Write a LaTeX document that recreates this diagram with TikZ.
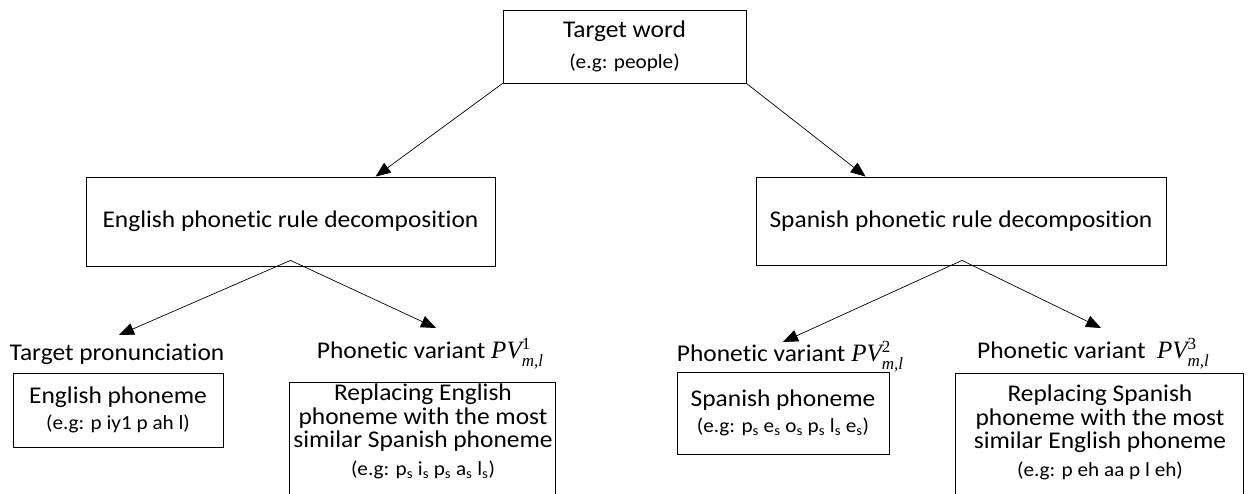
\documentclass[tikz,border=0pt]{standalone}
\usepackage{fontspec}
\setmainfont[FakeStretch=1.06,Ligatures=NoCommon]{Carlito}
\newfontfamily\tnr{Liberation Serif}
\usetikzlibrary{arrows.meta,calc}

% phonetic variant symbol PV^k_{m,l}
\newcommand{\pvar}[1]{{\tnr\fontsize{25}{25}\selectfont\itshape PV}\rlap{\raisebox{9pt}{\tnr\fontsize{17}{17}\selectfont #1}}\raisebox{-8pt}{\tnr\itshape\fontsize{17}{17}\selectfont m,l}}
\newcommand{\sub}[1]{#1\textsubscript{s}}

\begin{document}
\begin{tikzpicture}[x=1pt,y=-1pt,
  box/.style={draw, line width=0.8pt, inner sep=0pt, align=center},
  lbl/.style={inner sep=0pt, align=center},
  big/.style={font=\fontsize{24}{23.5}\selectfont},
  arr/.style={-{Triangle[length=15pt,width=12pt]}, line width=0.7pt}]
\useasboundingbox (0,0) rectangle (1249,494);
\newcommand{\eg}{\fontsize{20}{21}\selectfont}

% root
\node[box, big, minimum width=243, minimum height=73] (tw) at (624.5,46.5)
  {Target word\\[7pt]{\eg (e.g: people)}};

% decomposition stages
\node[box, big, minimum width=409, minimum height=89] (edec) at (290.5,221.5)
  {English phonetic rule decomposition};
\node[box, big, minimum width=410, minimum height=88] (sdec) at (961,221)
  {Spanish phonetic rule decomposition};

% leaf headings
\node[lbl, big] (tp)  at (117,354) {Target pronunciation};
\node[lbl, big] (pv1) at (430,354) {Phonetic variant \pvar{1}};
\node[lbl, big] (pv2) at (790,357) {Phonetic variant \pvar{2}};
\node[lbl, big] (pv3) at (1093,354) {Phonetic variant\ \ \pvar{3}};

% leaf boxes
\node[box, big, minimum width=210, minimum height=74] (ephon) at (118,410)
  {English phoneme\\[3pt]{\eg (e.g: p iy1 p ah l)}};
\node[box, big, minimum width=212, minimum height=82] (sphon) at (783,413)
  {Spanish phoneme\\[2pt]{\eg (e.g: \sub{p} \sub{e} \sub{o} \sub{p} \sub{l} \sub{e})}};

\node[lbl, big, anchor=north] (erep) at (423,384)
  {Replacing English\\phoneme with the most\\similar Spanish phoneme\\[4pt]{\eg (e.g: \sub{p} \sub{i} \sub{p} \sub{a} \sub{l})}};
\node[lbl, big, anchor=north] (srep) at (1100,385)
  {Replacing Spanish\\phoneme with the most\\similar English phoneme\\[4pt]{\eg (e.g: p eh aa p l eh)}};

% open-bottomed frames around the replacement boxes
\draw[line width=0.8pt] (289,496) |- (555,382) -- (555,496);
\draw[line width=0.8pt] (955,496) |- (1243,373) -- (1243,496);

% connectors
\coordinate (efork) at ($(edec.south)+(0,-6)$);
\coordinate (sfork) at ($(sdec.south)+(1,-5)$);
\draw[arr] (tw.south west) -- ($(edec.north west)+(290,0)$);
\draw[arr] (tw.south east) -- ($(sdec.north west)+(110,0)$);
\draw[arr] (efork) -- ($(tp)+(2,-19)$);
\draw[arr] (efork) -- ($(pv1)+(6,-26)$);
\draw[arr] (sfork) -- ($(pv2)+(-7,-15)$);
\draw[arr] (sfork) -- ($(pv3)+(8,-26)$);
\end{tikzpicture}
\end{document}
